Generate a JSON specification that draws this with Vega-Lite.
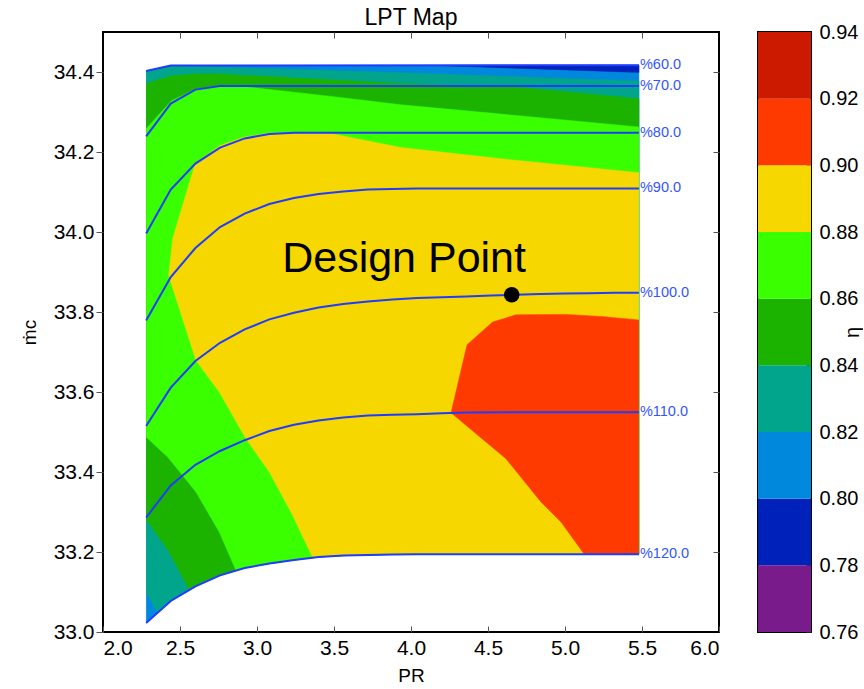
{
  "$schema": "https://vega.github.io/schema/vega-lite/v6.json",
  "padding": {"left": 19, "top": 5, "right": 0, "bottom": 5},
  "config": {
    "font": "Liberation Sans",
    "view": {"stroke": "black", "strokeWidth": 2},
    "axis": {"labelFontSize": 21, "labelColor": "black", "titleColor": "black", "titleFontWeight": "normal", "titleFontSize": 19, "tickColor": "#555", "domain": false, "grid": false}
  },
  "datasets": {
    "poly": [
      {"p":"dom","i":0,"x":2.28,"y":34.4025},{"p":"dom","i":1,"x":2.44,"y":34.416},{"p":"dom","i":2,"x":5.48,"y":34.417},{"p":"dom","i":3,"x":5.48,"y":33.1945},{"p":"dom","i":4,"x":4.04,"y":33.1945},{"p":"dom","i":5,"x":3.88,"y":33.194},{"p":"dom","i":6,"x":3.72,"y":33.1925},{"p":"dom","i":7,"x":3.56,"y":33.191},{"p":"dom","i":8,"x":3.40,"y":33.1875},{"p":"dom","i":9,"x":3.24,"y":33.18},{"p":"dom","i":10,"x":3.08,"y":33.171},{"p":"dom","i":11,"x":2.92,"y":33.16},{"p":"dom","i":12,"x":2.76,"y":33.1415},{"p":"dom","i":13,"x":2.60,"y":33.114},{"p":"dom","i":14,"x":2.44,"y":33.0775},{"p":"dom","i":15,"x":2.28,"y":33.0225},
      {"p":"dblue","i":0,"x":4.2,"y":34.4163},{"p":"dblue","i":1,"x":5.48,"y":34.417},{"p":"dblue","i":2,"x":5.48,"y":34.399},{"p":"dblue","i":3,"x":4.2,"y":34.4158},
      {"p":"teal","i":0,"x":2.28,"y":34.4025},{"p":"teal","i":1,"x":2.44,"y":34.4145},{"p":"teal","i":2,"x":2.757,"y":34.4125},{"p":"teal","i":3,"x":3.935,"y":34.398},{"p":"teal","i":4,"x":4.377,"y":34.392},{"p":"teal","i":5,"x":5.48,"y":34.3775},{"p":"teal","i":6,"x":5.48,"y":33.1945},{"p":"teal","i":7,"x":4.04,"y":33.1945},{"p":"teal","i":8,"x":3.88,"y":33.194},{"p":"teal","i":9,"x":3.72,"y":33.1925},{"p":"teal","i":10,"x":3.56,"y":33.191},{"p":"teal","i":11,"x":3.40,"y":33.1875},{"p":"teal","i":12,"x":3.24,"y":33.18},{"p":"teal","i":13,"x":3.08,"y":33.171},{"p":"teal","i":14,"x":2.92,"y":33.16},{"p":"teal","i":15,"x":2.76,"y":33.1415},{"p":"teal","i":16,"x":2.60,"y":33.114},{"p":"teal","i":17,"x":2.44,"y":33.0775},{"p":"teal","i":18,"x":2.355,"y":33.048},{"p":"teal","i":19,"x":2.28,"y":33.1},
      {"p":"dgreen","i":0,"x":2.28,"y":34.371},{"p":"dgreen","i":1,"x":2.44,"y":34.39},{"p":"dgreen","i":2,"x":2.595,"y":34.395},{"p":"dgreen","i":3,"x":2.757,"y":34.395},{"p":"dgreen","i":4,"x":3.935,"y":34.371},{"p":"dgreen","i":5,"x":4.682,"y":34.3625},{"p":"dgreen","i":6,"x":5.48,"y":34.333},{"p":"dgreen","i":7,"x":5.48,"y":33.1945},{"p":"dgreen","i":8,"x":4.04,"y":33.1945},{"p":"dgreen","i":9,"x":3.88,"y":33.194},{"p":"dgreen","i":10,"x":3.72,"y":33.1925},{"p":"dgreen","i":11,"x":3.56,"y":33.191},{"p":"dgreen","i":12,"x":3.40,"y":33.1875},{"p":"dgreen","i":13,"x":3.24,"y":33.18},{"p":"dgreen","i":14,"x":3.08,"y":33.171},{"p":"dgreen","i":15,"x":2.92,"y":33.16},{"p":"dgreen","i":16,"x":2.76,"y":33.1415},{"p":"dgreen","i":17,"x":2.60,"y":33.114},{"p":"dgreen","i":18,"x":2.56,"y":33.105},{"p":"dgreen","i":19,"x":2.43,"y":33.2},{"p":"dgreen","i":20,"x":2.28,"y":33.282},
      {"p":"green","i":0,"x":2.28,"y":34.258},{"p":"green","i":1,"x":2.444,"y":34.328},{"p":"green","i":2,"x":2.595,"y":34.3565},{"p":"green","i":3,"x":2.757,"y":34.365},{"p":"green","i":4,"x":2.935,"y":34.3625},{"p":"green","i":5,"x":3.526,"y":34.337},{"p":"green","i":6,"x":3.935,"y":34.318},{"p":"green","i":7,"x":4.552,"y":34.296},{"p":"green","i":8,"x":5.48,"y":34.2625},{"p":"green","i":9,"x":5.48,"y":33.1945},{"p":"green","i":10,"x":4.04,"y":33.1945},{"p":"green","i":11,"x":3.88,"y":33.194},{"p":"green","i":12,"x":3.72,"y":33.1925},{"p":"green","i":13,"x":3.56,"y":33.191},{"p":"green","i":14,"x":3.40,"y":33.1875},{"p":"green","i":15,"x":3.24,"y":33.18},{"p":"green","i":16,"x":3.08,"y":33.171},{"p":"green","i":17,"x":2.92,"y":33.16},{"p":"green","i":18,"x":2.864,"y":33.1535},{"p":"green","i":19,"x":2.755,"y":33.25},{"p":"green","i":20,"x":2.604,"y":33.35},{"p":"green","i":21,"x":2.42,"y":33.4375},{"p":"green","i":22,"x":2.28,"y":33.4875},
      {"p":"yellow","i":0,"x":5.48,"y":34.1483},{"p":"yellow","i":1,"x":4.584,"y":34.183},{"p":"yellow","i":2,"x":3.935,"y":34.211},{"p":"yellow","i":3,"x":3.4675,"y":34.247},{"p":"yellow","i":4,"x":3.08,"y":34.2475},{"p":"yellow","i":5,"x":2.9175,"y":34.2375},{"p":"yellow","i":6,"x":2.76,"y":34.2165},{"p":"yellow","i":7,"x":2.599,"y":34.1715},{"p":"yellow","i":8,"x":2.4526,"y":33.983},{"p":"yellow","i":9,"x":2.4266,"y":33.8915},{"p":"yellow","i":10,"x":2.604,"y":33.679},{"p":"yellow","i":11,"x":2.755,"y":33.6},{"p":"yellow","i":12,"x":2.9286,"y":33.483},{"p":"yellow","i":13,"x":3.08,"y":33.4},{"p":"yellow","i":14,"x":3.232,"y":33.2915},{"p":"yellow","i":15,"x":3.362,"y":33.186},{"p":"yellow","i":16,"x":3.40,"y":33.1875},{"p":"yellow","i":17,"x":3.56,"y":33.191},{"p":"yellow","i":18,"x":3.72,"y":33.1925},{"p":"yellow","i":19,"x":3.88,"y":33.194},{"p":"yellow","i":20,"x":4.04,"y":33.1945},{"p":"yellow","i":21,"x":5.48,"y":33.1945},
      {"p":"red","i":0,"x":5.48,"y":33.78},{"p":"red","i":1,"x":5.234,"y":33.789},{"p":"red","i":2,"x":5.006,"y":33.794},{"p":"red","i":3,"x":4.682,"y":33.793},{"p":"red","i":4,"x":4.53,"y":33.775},{"p":"red","i":5,"x":4.364,"y":33.718},{"p":"red","i":6,"x":4.26,"y":33.548},{"p":"red","i":7,"x":4.411,"y":33.4995},{"p":"red","i":8,"x":4.617,"y":33.433},{"p":"red","i":9,"x":4.844,"y":33.325},{"p":"red","i":10,"x":4.974,"y":33.275},{"p":"red","i":11,"x":5.125,"y":33.1945},{"p":"red","i":12,"x":5.48,"y":33.1945}
    ],
    "speed": [
      {"s":"60","x":2.28,"y":34.4025},{"s":"60","x":2.44,"y":34.416},{"s":"60","x":5.48,"y":34.417},
      {"s":"70","x":2.28,"y":34.239},{"s":"70","x":2.44,"y":34.321},{"s":"70","x":2.60,"y":34.356},{"s":"70","x":2.76,"y":34.365},{"s":"70","x":5.48,"y":34.365},
      {"s":"80","x":2.28,"y":33.996},{"s":"80","x":2.44,"y":34.106},{"s":"80","x":2.60,"y":34.171},{"s":"80","x":2.76,"y":34.211},{"s":"80","x":2.92,"y":34.234},{"s":"80","x":3.08,"y":34.245},{"s":"80","x":3.24,"y":34.248},{"s":"80","x":5.48,"y":34.248},
      {"s":"90","x":2.28,"y":33.779},{"s":"90","x":2.44,"y":33.8875},{"s":"90","x":2.60,"y":33.96},{"s":"90","x":2.76,"y":34.0125},{"s":"90","x":2.92,"y":34.046},{"s":"90","x":3.08,"y":34.07},{"s":"90","x":3.24,"y":34.085},{"s":"90","x":3.40,"y":34.095},{"s":"90","x":3.56,"y":34.1015},{"s":"90","x":3.72,"y":34.106},{"s":"90","x":3.88,"y":34.1075},{"s":"90","x":4.04,"y":34.109},{"s":"90","x":5.48,"y":34.109},
      {"s":"100","x":2.28,"y":33.515},{"s":"100","x":2.44,"y":33.611},{"s":"100","x":2.60,"y":33.6775},{"s":"100","x":2.76,"y":33.723},{"s":"100","x":2.92,"y":33.7565},{"s":"100","x":3.08,"y":33.7815},{"s":"100","x":3.24,"y":33.798},{"s":"100","x":3.40,"y":33.811},{"s":"100","x":3.56,"y":33.82},{"s":"100","x":3.72,"y":33.8265},{"s":"100","x":3.88,"y":33.8315},{"s":"100","x":4.04,"y":33.835},{"s":"100","x":4.20,"y":33.837},{"s":"100","x":4.36,"y":33.839},{"s":"100","x":4.52,"y":33.841},{"s":"100","x":4.68,"y":33.843},{"s":"100","x":4.84,"y":33.845},{"s":"100","x":5.00,"y":33.846},{"s":"100","x":5.16,"y":33.847},{"s":"100","x":5.32,"y":33.848},{"s":"100","x":5.48,"y":33.848},
      {"s":"110","x":2.28,"y":33.286},{"s":"110","x":2.44,"y":33.3665},{"s":"110","x":2.60,"y":33.418},{"s":"110","x":2.76,"y":33.4525},{"s":"110","x":2.92,"y":33.4795},{"s":"110","x":3.08,"y":33.5025},{"s":"110","x":3.24,"y":33.518},{"s":"110","x":3.40,"y":33.529},{"s":"110","x":3.56,"y":33.536},{"s":"110","x":3.72,"y":33.541},{"s":"110","x":3.88,"y":33.543},{"s":"110","x":4.04,"y":33.5445},{"s":"110","x":4.20,"y":33.547},{"s":"110","x":4.36,"y":33.549},{"s":"110","x":5.48,"y":33.5495},
      {"s":"120","x":2.28,"y":33.0225},{"s":"120","x":2.44,"y":33.0775},{"s":"120","x":2.60,"y":33.114},{"s":"120","x":2.76,"y":33.1415},{"s":"120","x":2.92,"y":33.16},{"s":"120","x":3.08,"y":33.171},{"s":"120","x":3.24,"y":33.18},{"s":"120","x":3.40,"y":33.1875},{"s":"120","x":3.56,"y":33.191},{"s":"120","x":3.72,"y":33.1925},{"s":"120","x":3.88,"y":33.194},{"s":"120","x":4.04,"y":33.1945},{"s":"120","x":5.48,"y":33.1945}
    ],
    "labels": [
      {"t":"%60.0","x":5.48,"y":34.417},{"t":"%70.0","x":5.48,"y":34.365},{"t":"%80.0","x":5.48,"y":34.248},{"t":"%90.0","x":5.48,"y":34.109},{"t":"%100.0","x":5.48,"y":33.848},{"t":"%110.0","x":5.48,"y":33.5495},{"t":"%120.0","x":5.48,"y":33.1945}
    ],
    "design": [{"t":"Design Point","x":4.654,"y":33.843,"tx":3.955,"ty":33.901}],
    "bands": [
      {"lo":0.76,"hi":0.78},{"lo":0.78,"hi":0.80},{"lo":0.80,"hi":0.82},{"lo":0.82,"hi":0.84},{"lo":0.84,"hi":0.86},{"lo":0.86,"hi":0.88},{"lo":0.88,"hi":0.90},{"lo":0.90,"hi":0.92},{"lo":0.92,"hi":0.94}
    ]
  },
  "hconcat": [
    {
      "width": 616,
      "height": 600,
      "title": {"text": "LPT Map", "fontSize": 23, "fontWeight": "normal", "offset": 2, "color": "black"},
      "encoding": {
        "x": {"field": "x", "type": "quantitative", "scale": {"domain": [2, 6], "nice": false, "zero": false}, "axis": null},
        "y": {"field": "y", "type": "quantitative", "scale": {"domain": [33, 34.5], "nice": false, "zero": false}, "axis": null}
      },
      "layer": [
        {"data": {"name": "poly"}, "transform": [{"filter": "datum.p == 'dom'"}], "mark": {"type": "line", "fill": "#0088dd", "stroke": "#0088dd", "strokeWidth": 0.5}, "encoding": {"order": {"field": "i", "type": "quantitative"}}},
        {"data": {"name": "poly"}, "transform": [{"filter": "datum.p == 'dblue'"}], "mark": {"type": "line", "fill": "#0022bb", "stroke": "#0022bb", "strokeWidth": 0.5}, "encoding": {"order": {"field": "i", "type": "quantitative"}}},
        {"data": {"name": "poly"}, "transform": [{"filter": "datum.p == 'teal'"}], "mark": {"type": "line", "fill": "#00a58c", "stroke": "#00a58c", "strokeWidth": 0.5}, "encoding": {"order": {"field": "i", "type": "quantitative"}}},
        {"data": {"name": "poly"}, "transform": [{"filter": "datum.p == 'dgreen'"}], "mark": {"type": "line", "fill": "#1bb300", "stroke": "#1bb300", "strokeWidth": 0.5}, "encoding": {"order": {"field": "i", "type": "quantitative"}}},
        {"data": {"name": "poly"}, "transform": [{"filter": "datum.p == 'green'"}], "mark": {"type": "line", "fill": "#3aff00", "stroke": "#3aff00", "strokeWidth": 0.5}, "encoding": {"order": {"field": "i", "type": "quantitative"}}},
        {"data": {"name": "poly"}, "transform": [{"filter": "datum.p == 'yellow'"}], "mark": {"type": "line", "fill": "#f6d800", "stroke": "#f6d800", "strokeWidth": 0.5}, "encoding": {"order": {"field": "i", "type": "quantitative"}}},
        {"data": {"name": "poly"}, "transform": [{"filter": "datum.p == 'red'"}], "mark": {"type": "line", "fill": "#ff3a00", "stroke": "#ff3a00", "strokeWidth": 0.5}, "encoding": {"order": {"field": "i", "type": "quantitative"}}},
        {"data": {"name": "speed"}, "mark": {"type": "line", "stroke": "#1f3cff", "strokeWidth": 2},
         "encoding": {
           "detail": {"field": "s"},
           "x": {"field": "x", "type": "quantitative", "scale": {"domain": [2, 6], "nice": false, "zero": false},
                 "axis": {"orient": "bottom", "title": "PR", "values": [2, 2.5, 3, 3.5, 4, 4.5, 5, 5.5, 6], "format": ".1f", "tickSize": -6, "labelPadding": 11, "titlePadding": 8}},
           "y": {"field": "y", "type": "quantitative", "scale": {"domain": [33, 34.5], "nice": false, "zero": false},
                 "axis": {"orient": "left", "title": "ṁc", "values": [33, 33.2, 33.4, 33.6, 33.8, 34, 34.2, 34.4], "format": ".1f", "tickSize": 7, "labelPadding": 2, "titlePadding": 14}}
         }},
        {"data": {"name": "labels"}, "mark": {"type": "text", "align": "left", "baseline": "middle", "dx": 1, "fontSize": 14.5, "color": "#3355ff"},
         "encoding": {
           "text": {"field": "t"},
           "x": {"field": "x", "type": "quantitative", "scale": {"domain": [2, 6], "nice": false, "zero": false},
                 "axis": {"orient": "top", "title": null, "labels": false, "values": [2.5, 3, 3.5, 4, 4.5, 5, 5.5], "tickSize": -6}},
           "y": {"field": "y", "type": "quantitative", "scale": {"domain": [33, 34.5], "nice": false, "zero": false},
                 "axis": {"orient": "right", "title": null, "labels": false, "values": [33.2, 33.4, 33.6, 33.8, 34, 34.2, 34.4], "tickSize": -6}}
         }},
        {"data": {"name": "design"}, "mark": {"type": "point", "filled": true, "color": "black", "size": 240, "opacity": 1}},
        {"data": {"name": "design"}, "mark": {"type": "text", "align": "center", "baseline": "alphabetic", "fontSize": 43, "color": "black"}, "encoding": {"x": {"field": "tx", "type": "quantitative"}, "y": {"field": "ty", "type": "quantitative"}, "text": {"field": "t"}}}
      ]
    },
    {
      "width": 53,
      "height": 600,
      "data": {"name": "bands"},
      "mark": {"type": "rect"},
      "encoding": {
        "y": {"field": "lo", "type": "quantitative", "scale": {"domain": [0.76, 0.94], "nice": false, "zero": false},
              "axis": {"orient": "right", "values": [0.76, 0.78, 0.8, 0.82, 0.84, 0.86, 0.88, 0.9, 0.92, 0.94], "format": ".2f", "labelFontSize": 20, "title": "η", "titleAngle": -90, "titleFontSize": 20, "titleX": 41, "titleY": 300, "titleAlign": "center", "titleBaseline": "middle", "tickSize": -5, "tickColor": "#222", "labelPadding": 13}},
        "y2": {"field": "hi"},
        "color": {"field": "lo", "type": "ordinal", "legend": null,
                  "scale": {"domain": [0.76, 0.78, 0.8, 0.82, 0.84, 0.86, 0.88, 0.9, 0.92], "range": ["#791b8b", "#0022bb", "#0088dd", "#00a58c", "#1bb300", "#3aff00", "#f6d800", "#ff3a00", "#cc1a00"]}}
      }
    }
  ],
  "spacing": 36
}
